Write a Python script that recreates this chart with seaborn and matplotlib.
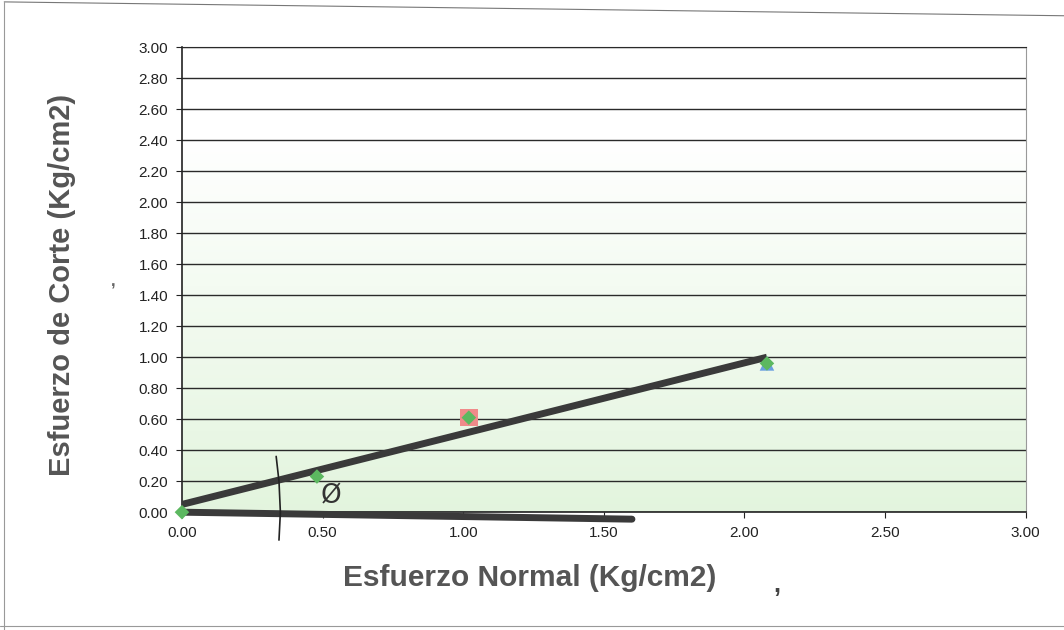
import numpy as np
import pandas as pd
import matplotlib
matplotlib.use("Agg")
import matplotlib.pyplot as plt
import seaborn as sns

# datos del ensayo de corte directo
esf_normal = [0.00, 0.48, 1.02, 2.08]     # Kg/cm2
esf_corte = [0.00, 0.23, 0.61, 0.96]      # Kg/cm2
# puntos marcados por ensayo
ensayo_rojo_x = [1.02]
ensayo_rojo_y = [0.61]
ensayo_azul_x = [2.08]
ensayo_azul_y = [0.96]
# envolvente de falla (trazo grueso)
env_x = [0.00, 2.08]
env_y = [0.05, 1.00]
# trazos a mano: base horizontal y arco del angulo
base_x = [0.00, 1.60]
base_y = [0.00, -0.045]
arco_x = [0.335, 0.345, 0.350, 0.345]
arco_y = [0.36, 0.20, 0.00, -0.18]

yticks = np.round(np.arange(0, 3.01, 0.2), 2)
xticks = [0.0, 0.5, 1.0, 1.5, 2.0, 2.5, 3.0]

sns.set_style("white")
plt.rcParams['font.family'] = ['Liberation Sans', 'DejaVu Sans']

fig = plt.figure(figsize=(10.64, 6.3), dpi=100)
ax = fig.add_axes([0.171, 0.187, 0.793, 0.738])

# fondo degradado blanco (arriba) -> verde claro (abajo)
grad = np.linspace(0, 1, 256).reshape(-1, 1)
top = np.array([1.0, 1.0, 1.0])
bot = np.array([0.89, 0.96, 0.87])
img = top + (bot - top) * np.clip((grad - 0.2) / 0.8, 0, 1)[..., None]
ax.imshow(img, extent=[0, 3, 0, 3], origin='upper', aspect='auto', zorder=0)

df = pd.DataFrame({'x': esf_normal, 'y': esf_corte})
sns.lineplot(x=env_x, y=env_y, ax=ax, color='#3a3a3a', lw=5,
             solid_capstyle='butt', zorder=3)
sns.lineplot(x=base_x, y=base_y, ax=ax, color='#3a3a3a', lw=5,
             clip_on=False, zorder=3)
ax.plot(arco_x, arco_y, color='#222222', lw=1.2, clip_on=False, zorder=3)
sns.scatterplot(x=ensayo_rojo_x, y=ensayo_rojo_y, ax=ax, marker='s', s=160,
                color='#f08a8a', edgecolor='none', zorder=4)
sns.scatterplot(x=ensayo_azul_x, y=ensayo_azul_y, ax=ax, marker='^', s=110,
                color='#6a9fe0', edgecolor='none', zorder=4)
sns.scatterplot(data=df, x='x', y='y', ax=ax, marker='D', s=55,
                color='#5cb860', edgecolor='none', zorder=5, clip_on=False)

ax.text(0.53, 0.10, 'Ø', fontsize=19, color='#333333',
        ha='center', va='center', family=['DejaVu Sans'])

ax.set_xlim(0, 3)
ax.set_ylim(0, 3)
ax.set_xlabel('')
ax.set_ylabel('')
ax.set_xticks(xticks)
ax.set_xticklabels(['%.2f' % v for v in xticks])
ax.set_yticks(yticks)
ax.set_yticklabels(['%.2f' % v for v in yticks])
ax.tick_params(axis='both', labelsize=11, colors='#222222', length=4,
               direction='out', left=True, bottom=True, pad=6)
ax.yaxis.grid(True, color='#2a2a2a', lw=1)
ax.xaxis.grid(False)
ax.set_axisbelow(True)
for s in ['left', 'bottom']:
    ax.spines[s].set_color('#222222')
    ax.spines[s].set_linewidth(1.2)
ax.spines['right'].set_color('#999999')
ax.spines['top'].set_color('#2a2a2a')

# titulos de ejes
fig.text(0.498, 0.082, 'Esfuerzo Normal (Kg/cm2)', fontsize=21.5,
         fontweight='bold', color='#555555', ha='center', va='center')
fig.text(0.058, 0.548, 'Esfuerzo de Corte (Kg/cm2)', fontsize=21,
         fontweight='bold', color='#555555', ha='center', va='center',
         rotation=90)

# comas sueltas del escaneo
fig.text(0.727, 0.060, ',', fontsize=18, color='#444444', fontweight='bold')
fig.text(0.104, 0.545, ',', fontsize=12, color='#666666', fontweight='bold')

# marco de la hoja
fig.add_artist(plt.Line2D([0.004, 1.0], [0.997, 0.975], color='#777777', lw=0.8))
fig.add_artist(plt.Line2D([0.004, 0.004], [0.0, 0.997], color='#999999', lw=0.8))
fig.add_artist(plt.Line2D([0.0, 1.0], [0.006, 0.006], color='#999999', lw=0.8))

fig.savefig('out.png', dpi=100)
